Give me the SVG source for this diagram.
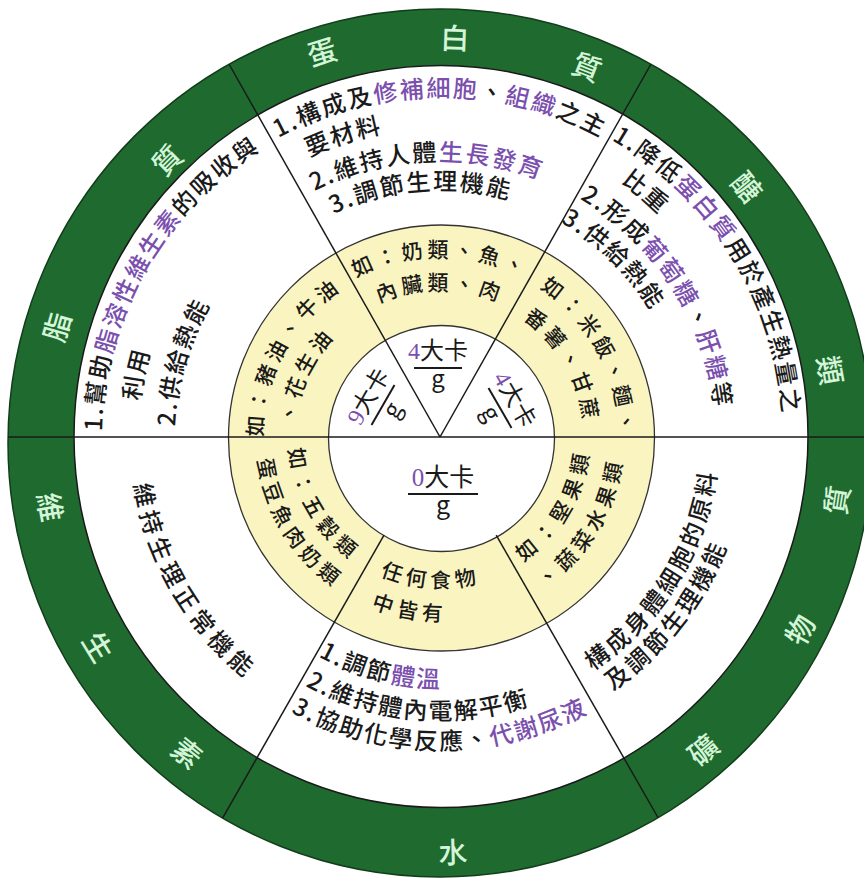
<svg xmlns="http://www.w3.org/2000/svg" width="864" height="881" viewBox="0 0 864 881">
<style>
.t{font-family:"Noto Sans CJK TC","Noto Sans CJK SC",sans-serif;font-size:24px;font-weight:500;fill:#1a1a1a;letter-spacing:2px}
.p{fill:#7b4fae}
.y{font-size:21px;letter-spacing:4px}
.ring{font-family:"Noto Sans CJK TC","Noto Sans CJK SC",sans-serif;font-size:29px;font-weight:500;fill:#d4f5d8;text-anchor:middle}
.fr{font-family:"Noto Sans CJK TC","Noto Sans CJK SC",sans-serif;font-size:24px;fill:#1a1a1a;text-anchor:middle}
.num{font-family:"Liberation Serif",serif;fill:#7b4fae}
.div{stroke:#1a1a1a;stroke-width:1.5;fill:none}
.fl{stroke:#1a1a1a;stroke-width:2}
</style>
<defs>
<clipPath id="outer"><ellipse cx="440" cy="443" rx="432" ry="434"/></clipPath>
<path id="pT1" d="M145.6 267 A340 340 0 0 1 734.4 267"/>
<path id="pT2" d="M309.4 157 A309 309 0 0 1 638.6 200.3"/>
<path id="pT3" d="M314.7 191.1 A276 276 0 0 1 617.4 225.6"/>
<path id="pT4" d="M333.7 214.1 A247 247 0 0 1 598.8 247.8"/>
<path id="pR1" d="M611.5 140 A343 343 0 0 1 777.8 496.6"/>
<path id="pR2" d="M620.3 182.4 A312 312 0 0 1 752 437"/>
<path id="pR3" d="M579.7 199 A276 276 0 0 1 711.8 484.9"/>
<path id="pR4" d="M560.4 222.5 A246 246 0 0 1 686 437"/>
<path id="pL1" d="M102 431.1 A338 338 0 0 1 324.4 119.4"/>
<path id="pL2" d="M140.1 401.2 A302 302 0 0 1 289 175.5"/>
<path id="pL3" d="M175.2 426.4 A265 265 0 0 1 307.5 207.5"/>
<path id="pV1" d="M133.7 485 A310 310 0 0 0 386.2 742.3"/>
<path id="pW1" d="M318.3 656.5 A251 251 0 0 0 632.3 598.3"/>
<path id="pW2" d="M305.4 685.9 A283 283 0 0 0 656.8 618.9"/>
<path id="pW3" d="M168.9 593.5 A313 313 0 0 0 711.1 593.5"/>
<path id="pM1" d="M592.4 670.7 A279 279 0 0 0 714.8 388.6"/>
<path id="pM2" d="M612.6 690.9 A307 307 0 0 0 742.3 383.7"/>
<path id="yT1" d="M284.1 347 A180 180 0 0 1 595.9 347"/>
<path id="yT2" d="M312.7 363.5 A147 147 0 0 1 567.3 363.5"/>
<path id="yL1" d="M263 437 A177 177 0 0 1 379.5 270.7"/>
<path id="yL2" d="M295.5 424.9 A145 145 0 0 1 390.4 300.7"/>
<path id="yR1" d="M539.6 288.2 A179 179 0 0 1 616.3 468.1"/>
<path id="yR2" d="M522.6 319 A144 144 0 0 1 581.8 462"/>
<path id="yV1" d="M288.5 449.2 A152 152 0 0 0 413.6 586.7"/>
<path id="yV2" d="M257.4 459.7 A184 184 0 0 0 408 618.2"/>
<path id="yW1" d="M380 575.6 A151 151 0 0 0 555.7 534.1"/>
<path id="yW2" d="M371.1 607.6 A184 184 0 0 0 581 555.3"/>
<path id="yM1" d="M523 561.9 A150 150 0 0 0 587.7 411"/>
<path id="yM2" d="M544.2 588.6 A184 184 0 0 0 621.2 405"/>
</defs>
<rect width="864" height="881" fill="#ffffff"/>
<g id="rings">
<ellipse cx="440" cy="443" rx="432" ry="434" fill="#1f6b2f" stroke="#123d1a" stroke-width="1.5"/>
<ellipse cx="441" cy="436.5" rx="367" ry="371" fill="#ffffff" stroke="#1a1a1a" stroke-width="1.5"/>
<circle cx="441.5" cy="438" r="213" fill="#faf5c0" stroke="#333" stroke-width="1.3"/>
<circle cx="441.5" cy="438.5" r="113" fill="#ffffff" stroke="#333" stroke-width="1.3"/>
</g>
<g id="connectors" clip-path="url(#outer)">
<line class="div" x1="0" y1="437" x2="864" y2="437"/>
<line class="div" x1="440" y1="437" x2="223.3" y2="54"/>
<line class="div" x1="440" y1="437" x2="656.7" y2="54"/>
<line class="div" x1="384" y1="535.2" x2="217" y2="827.9"/>
<line class="div" x1="496.2" y1="535.1" x2="663.7" y2="827.5"/>
</g>
<g id="protein">
<text class="ring" transform="translate(322 52) rotate(-17)" y="11">蛋</text>
<text class="ring" transform="translate(455 38) rotate(2)" y="11">白</text>
<text class="ring" transform="translate(587 67) rotate(21.5)" y="11">質</text>
<text class="t"><textPath href="#pT1" startOffset="50%" text-anchor="middle">1.構成及<tspan class="p">修補細胞</tspan>、<tspan class="p">組織</tspan>之主</textPath></text>
<text class="t"><textPath href="#pT2">要材料</textPath></text>
<text class="t"><textPath href="#pT3">2.維持人體<tspan class="p">生長發育</tspan></textPath></text>
<text class="t"><textPath href="#pT4">3.調節生理機能</textPath></text>
<text class="t y"><textPath href="#yT1" startOffset="50%" text-anchor="middle">如：奶類、魚、</textPath></text>
<text class="t y"><textPath href="#yT2" startOffset="50%" text-anchor="middle">內臟類、肉</textPath></text>
<g transform="translate(438 368)">
<text class="fr" y="-9"><tspan class="num">4</tspan>大卡</text>
<line class="fl" x1="-24" y1="0" x2="24" y2="0"/>
<text class="fr" y="19">g</text>
</g>
</g>
<g id="carbohydrate">
<text class="ring" transform="translate(747 187) rotate(50.6)" y="11">醣</text>
<text class="ring" transform="translate(830 370) rotate(80)" y="11">類</text>
<text class="t"><textPath href="#pR1">1.降低<tspan class="p">蛋白質</tspan>用於產生熱量之</textPath></text>
<text class="t"><textPath href="#pR2">比重</textPath></text>
<text class="t"><textPath href="#pR3">2.形成<tspan class="p">葡萄糖</tspan>、<tspan class="p">肝糖</tspan>等</textPath></text>
<text class="t"><textPath href="#pR4">3.供給熱能</textPath></text>
<text class="t y"><textPath href="#yR1">如：米飯、麵、</textPath></text>
<text class="t y"><textPath href="#yR2">番薯、甘蔗</textPath></text>
<g transform="translate(500 408) rotate(60)">
<text class="fr" y="-9"><tspan class="num">4</tspan>大卡</text>
<line class="fl" x1="-23" y1="0" x2="23" y2="0"/>
<text class="fr" y="19">g</text>
</g>
</g>
<g id="fat">
<text class="ring" transform="translate(57 327) rotate(-74)" y="11">脂</text>
<text class="ring" transform="translate(167 160) rotate(-44.6)" y="11">質</text>
<text class="t"><textPath href="#pL1">1.幫助<tspan class="p">脂溶性維生素</tspan>的吸收與</textPath></text>
<text class="t"><textPath href="#pL2">利用</textPath></text>
<text class="t"><textPath href="#pL3">2.供給熱能</textPath></text>
<text class="t y"><textPath href="#yL1">如：豬油、牛油</textPath></text>
<text class="t y"><textPath href="#yL2">、花生油</textPath></text>
<g transform="translate(383 405) rotate(-60)">
<text class="fr" y="-9"><tspan class="num">9</tspan>大卡</text>
<line class="fl" x1="-23" y1="0" x2="23" y2="0"/>
<text class="fr" y="19">g</text>
</g>
</g>
<g id="vitamin">
<text class="ring" transform="translate(50 507) rotate(80)" y="11">維</text>
<text class="ring" transform="translate(98 647) rotate(58.6)" y="11">生</text>
<text class="ring" transform="translate(187 753) rotate(38.9)" y="11">素</text>
<text class="t" style="letter-spacing:5px"><textPath href="#pV1">維持生理正常機能</textPath></text>
<text class="t y" style="letter-spacing:6px"><textPath href="#yV1">如：五穀類</textPath></text>
<text class="t y" style="letter-spacing:5px"><textPath href="#yV2">蛋豆魚肉奶類</textPath></text>
</g>
<g id="water">
<text class="ring" transform="translate(453 852) rotate(-1.7)" y="11">水</text>
<text class="t"><textPath href="#pW1">1.調節<tspan class="p">體溫</tspan></textPath></text>
<text class="t"><textPath href="#pW2">2.維持體內電解平衡</textPath></text>
<text class="t"><textPath href="#pW3" startOffset="50%" text-anchor="middle">3.協助化學反應、<tspan class="p">代謝尿液</tspan></textPath></text>
<text class="t y" style="letter-spacing:5px"><textPath href="#yW1">任何食物</textPath></text>
<text class="t y" style="letter-spacing:5px"><textPath href="#yW2">中皆有</textPath></text>
<g transform="translate(443 494)">
<text class="fr" y="-8" style="font-size:25px"><tspan class="num">0</tspan>大卡</text>
<line class="fl" x1="-35" y1="0" x2="35" y2="0"/>
<text class="fr" y="20" style="font-size:25px">g</text>
</g>
</g>
<g id="mineral">
<text class="ring" transform="translate(837 500) rotate(-81)" y="11">質</text>
<text class="ring" transform="translate(800 630) rotate(-62)" y="11">物</text>
<text class="ring" transform="translate(703 750) rotate(-40)" y="11">礦</text>
<text class="t" style="letter-spacing:3px"><textPath href="#pM1">構成身體細胞的原料</textPath></text>
<text class="t" style="letter-spacing:3px"><textPath href="#pM2">及調節生理機能</textPath></text>
<text class="t y" style="letter-spacing:6px"><textPath href="#yM1">如：堅果類</textPath></text>
<text class="t y" style="letter-spacing:5px"><textPath href="#yM2">、蔬菜水果類</textPath></text>
</g>
</svg>
